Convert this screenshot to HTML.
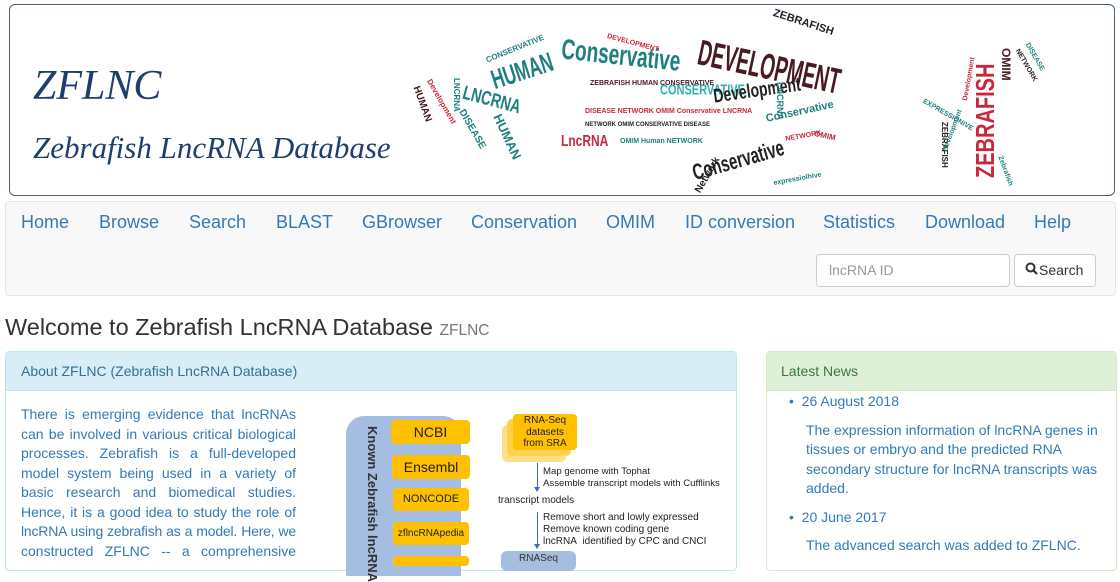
<!DOCTYPE html>
<html><head><meta charset="utf-8">
<style>
*{box-sizing:border-box;margin:0;padding:0}
body{width:1120px;height:560px;overflow:hidden;background:#fff;font-family:"Liberation Sans",Arial,sans-serif;position:relative}
.a{position:absolute;white-space:nowrap}
.hdr{position:absolute;left:9px;top:4px;width:1106px;height:192px;border:1px solid #4a5f7a;border-radius:6px}
.wc{position:absolute;white-space:nowrap;font-family:"Liberation Sans Narrow","Liberation Sans",sans-serif;font-stretch:condensed;font-weight:bold;transform-origin:left top;line-height:1}
.t{color:#1e7f7f}.r{color:#c8283c}.d{color:#4a1a22}.k{color:#222}.c{color:#2ab0b0}
.nav{position:absolute;left:5px;top:201px;width:1111px;height:95px;background:#f8f8f8;border:1px solid #e7e7e7;border-radius:4px}
.nv{position:absolute;top:212px;font-size:18px;color:#337ab7}
.ln{width:275px;text-align:justify;text-align-last:justify;height:19.5px;font-size:14px;color:#337ab7;white-space:nowrap}
.ob{position:absolute;background:#ffc000;border-radius:4px;text-align:center;color:#222;font-size:13px}
.sm{font-size:10px;color:#222;line-height:12px}
</style></head><body>
<div class="hdr"></div>
<div class="a" style="left:33px;top:62px;font-family:'Liberation Serif',serif;font-style:italic;font-size:42px;color:#1e3f6e">ZFLNC</div>
<div class="a" style="left:33px;top:130px;font-family:'Liberation Serif',serif;font-style:italic;font-size:31px;color:#1e3f6e">Zebrafish LncRNA Database</div>

<!-- word cloud -->
<div class="wc k" style="left:775px;top:8px;font-size:11px;transform:rotate(18deg)">ZEBRAFISH</div>
<div class="wc t" style="left:488px;top:68px;font-size:17px;transform:rotate(-18deg) scaleY(1.6)">HUMAN</div>
<div class="wc t" style="left:563px;top:36px;font-size:19px;transform:rotate(6deg) scaleY(1.5)">Conservative</div>
<div class="wc d" style="left:702px;top:36px;font-size:19px;transform:rotate(12deg) scaleY(1.9)">DEVELOPMENT</div>
<div class="wc t" style="left:466px;top:82px;font-size:14px;transform:rotate(15deg) scaleY(1.4)">LNCRNA</div>
<div class="wc t" style="left:485px;top:57px;font-size:8px;transform:rotate(-22deg)">CONSERVATIVE</div>
<div class="wc d" style="left:420px;top:85px;font-size:10px;transform:rotate(70deg)">HUMAN</div>
<div class="wc r" style="left:432px;top:78px;font-size:8px;transform:rotate(60deg)">Development</div>
<div class="wc t" style="left:465px;top:108px;font-size:10px;transform:rotate(60deg)">DISEASE</div>
<div class="wc t" style="left:503px;top:112px;font-size:13px;transform:rotate(65deg)">HUMAN</div>
<div class="wc t" style="left:460px;top:78px;font-size:8px;transform:rotate(90deg)">LNCRNA</div>
<div class="wc c" style="left:660px;top:84px;font-size:11px;transform:scaleY(1.3)">CONSERVATIVE</div>
<div class="wc k" style="left:712px;top:86px;font-size:14px;transform:rotate(-8deg) scaleY(1.4)">Development</div>
<div class="wc k" style="left:690px;top:163px;font-size:15px;transform:rotate(-16deg) scaleY(1.5)">Conservative</div>
<div class="wc t" style="left:765px;top:114px;font-size:11px;transform:rotate(-12deg)">Conservative</div>
<div class="wc r" style="left:561px;top:133px;font-size:12px;transform:scaleY(1.3)">LncRNA</div>
<div class="wc r" style="left:608px;top:33px;font-size:7px;transform:rotate(15deg)">DEVELOPMENT</div>
<div class="wc r" style="left:785px;top:136px;font-size:7px;transform:rotate(-10deg)">NETWORK</div>
<div class="wc r" style="left:815px;top:130px;font-size:8px;transform:rotate(12deg)">OMIM</div>
<div class="wc r" style="left:973px;top:178px;font-size:20px;transform:rotate(-90deg) scaleY(1.3)">ZEBRAFISH</div>
<div class="wc d" style="left:1012px;top:48px;font-size:12px;transform:rotate(90deg)">OMIM</div>
<div class="wc k" style="left:948px;top:122px;font-size:8px;transform:rotate(90deg)">ZEBRAFISH</div>
<div class="wc k" style="left:694px;top:190px;font-size:10px;transform:rotate(-60deg)">Network</div>
<div class="wc t" style="left:773px;top:180px;font-size:7px;transform:rotate(-10deg)">expressiolhive</div>
<div class="wc t" style="left:784px;top:82px;font-size:9px;transform:rotate(90deg)">LNCRNA</div>
<div class="wc t" style="left:925px;top:98px;font-size:7px;transform:rotate(30deg)">EXPRESSIONIVE</div>
<div class="wc t" style="left:1030px;top:42px;font-size:7px;transform:rotate(60deg)">DISEASE</div>
<div class="wc k" style="left:1020px;top:48px;font-size:7px;transform:rotate(60deg)">NETWORK</div>
<div class="wc r" style="left:962px;top:100px;font-size:7px;transform:rotate(-80deg)">Development</div>
<div class="wc t" style="left:942px;top:150px;font-size:7px;transform:rotate(-70deg)">Development</div>
<div class="wc t" style="left:1003px;top:155px;font-size:7px;transform:rotate(70deg)">Zebrafish</div>
<div class="wc d" style="left:590px;top:80px;font-size:7px">ZEBRAFISH HUMAN CONSERVATIVE</div>
<div class="wc r" style="left:585px;top:108px;font-size:7px">DISEASE NETWORK OMIM Conservative LNCRNA</div>
<div class="wc t" style="left:620px;top:138px;font-size:7px">OMIM Human NETWORK</div>
<div class="wc k" style="left:585px;top:122px;font-size:6px">NETWORK OMIM CONSERVATIVE DISEASE</div>

<!-- nav -->
<div class="nav"></div>
<div class="nv" style="left:21px">Home</div>
<div class="nv" style="left:99px">Browse</div>
<div class="nv" style="left:189px">Search</div>
<div class="nv" style="left:276px">BLAST</div>
<div class="nv" style="left:362px">GBrowser</div>
<div class="nv" style="left:471px">Conservation</div>
<div class="nv" style="left:606px">OMIM</div>
<div class="nv" style="left:685px">ID conversion</div>
<div class="nv" style="left:823px">Statistics</div>
<div class="nv" style="left:925px">Download</div>
<div class="nv" style="left:1034px">Help</div>
<div class="a" style="left:816px;top:254px;width:194px;height:33px;background:#fff;border:1px solid #ccc;border-radius:4px;padding:7px 12px;font-size:14px;color:#999">lncRNA ID</div>
<div class="a" style="left:1014px;top:254px;width:82px;height:33px;background:#fff;border:1px solid #ccc;border-radius:4px"></div>
<svg class="a" style="left:1025px;top:262px" width="14" height="14"><circle cx="5.5" cy="5.5" r="4" fill="#fff" stroke="#333" stroke-width="2"/><line x1="8.5" y1="8.5" x2="12" y2="12" stroke="#333" stroke-width="2.2"/></svg>
<div class="a" style="left:1039px;top:262px;font-size:14px;color:#333">Search</div>

<div class="a" style="left:5px;top:314px;font-size:23.5px;color:#333">Welcome to Zebrafish LncRNA Database <span style="font-size:15.5px;color:#777">ZFLNC</span></div>

<!-- left panel -->
<div class="a" style="left:5px;top:351px;width:732px;height:220px;border:1px solid #bce8f1;border-radius:4px"></div>
<div class="a" style="left:6px;top:352px;width:730px;height:39px;background:#d9edf7;border-bottom:1px solid #bce8f1"></div>
<div class="a" style="left:21px;top:363px;font-size:14px;color:#31708f">About ZFLNC (Zebrafish LncRNA Database)</div>
<div class="a" style="left:21px;top:406px">
<div class="ln">There is emerging evidence that lncRNAs</div>
<div class="ln">can be involved in various critical biological</div>
<div class="ln">processes. Zebrafish is a full-developed</div>
<div class="ln">model system being used in a variety of</div>
<div class="ln">basic research and biomedical studies.</div>
<div class="ln">Hence, it is a good idea to study the role of</div>
<div class="ln" style="letter-spacing:-0.2px">lncRNA using zebrafish as a model. Here, we</div>
<div class="ln">constructed ZFLNC -- a comprehensive</div>
</div>
<!-- diagram -->
<div class="a" style="left:346px;top:416px;width:115px;height:160px;background:#a6bde2;border-radius:18px 18px 0 0"></div>
<div class="a" style="left:358px;top:426px;transform-origin:left top;transform:translate(22px,0) rotate(90deg);font-size:13px;font-weight:bold;color:#333">Known Zebrafish lncRNA</div>
<div class="ob" style="left:391px;top:420px;width:79px;height:24px;line-height:24px;font-size:14px">NCBI</div>
<div class="ob" style="left:392px;top:455px;width:78px;height:24px;line-height:24px;font-size:14px">Ensembl</div>
<div class="ob" style="left:393px;top:488px;width:76px;height:23px;line-height:23px;font-size:11px">NONCODE</div>
<div class="ob" style="left:393px;top:522px;width:76px;height:23px;line-height:23px;font-size:10px">zflncRNApedia</div>
<div class="ob" style="left:393px;top:556px;width:76px;height:10px"></div>
<div class="a" style="left:502px;top:425px;width:64px;height:37px;background:#ffe08a;border-radius:5px"></div>
<div class="a" style="left:507px;top:419px;width:64px;height:37px;background:#ffd050;border-radius:5px"></div>
<div class="ob" style="left:513px;top:414px;width:64px;height:36px;font-size:10px;line-height:11.5px;padding-top:1px">RNA-Seq<br>datasets<br>from SRA</div>
<div class="a" style="left:537px;top:463px;width:1px;height:27px;background:#3b6bc0"></div>
<div class="a" style="left:534px;top:487px;border-left:3.5px solid transparent;border-right:3.5px solid transparent;border-top:5px solid #3b6bc0"></div>
<div class="a sm" style="left:543px;top:466px;font-size:9.6px">Map genome with Tophat<br>Assemble transcript models with Cufflinks</div>
<div class="a sm" style="left:498px;top:495px">transcript models</div>
<div class="a" style="left:537px;top:512px;width:1px;height:35px;background:#3b6bc0"></div>
<div class="a" style="left:534px;top:544px;border-left:3.5px solid transparent;border-right:3.5px solid transparent;border-top:5px solid #3b6bc0"></div>
<div class="a sm" style="left:543px;top:512px">Remove short and lowly expressed<br>Remove known coding gene<br>lncRNA&nbsp; identified by CPC and CNCI</div>
<div class="a" style="left:501px;top:551px;width:75px;height:20px;background:#a6bde2;border-radius:6px;font-size:10px;text-align:center;color:#333;padding-top:2px">RNASeq</div>

<!-- right panel -->
<div class="a" style="left:766px;top:351px;width:351px;height:220px;border:1px solid #d6e9c6;border-radius:4px"></div>
<div class="a" style="left:767px;top:352px;width:349px;height:39px;background:#dff0d8;border-bottom:1px solid #d6e9c6"></div>
<div class="a" style="left:781px;top:363px;font-size:14px;color:#3c763d">Latest News</div>
<div class="a" style="left:789px;top:392px;font-size:14px;color:#337ab7;line-height:19.5px">
<div>&bull;&nbsp;&nbsp;26 August 2018</div>
<div style="margin:9px 0 0 17px;width:300px;white-space:normal">The expression information of lncRNA genes in tissues or embryo and the predicted RNA secondary structure for lncRNA transcripts was added.</div>
<div style="margin-top:9px">&bull;&nbsp;&nbsp;20 June 2017</div>
<div style="margin:9px 0 0 17px">The advanced search was added to ZFLNC.</div>
</div>
</body></html>
